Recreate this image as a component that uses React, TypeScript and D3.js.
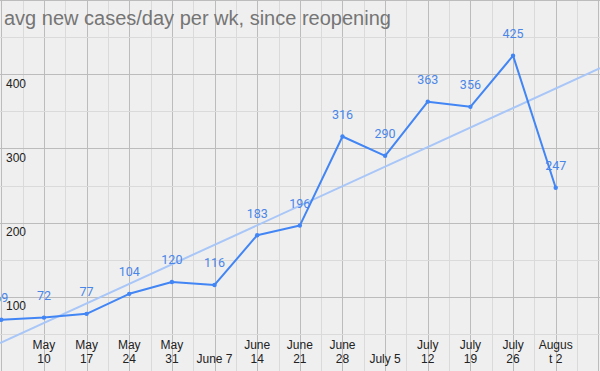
import React from "react";
import * as d3 from "d3";

// weekly averages since reopening
const weeks = ["May 3", "May 10", "May 17", "May 24", "May 31", "June 7", "June 14", "June 21", "June 28", "July 5", "July 12", "July 19", "July 26", "August 2"];
const avgCases = [69, 72, 77, 104, 120, 116, 183, 196, 316, 290, 363, 356, 425, 247];
// how the category axis wraps its labels (first week is off the visible axis)
const weekLabelLines = [[], ["May", "10"], ["May", "17"], ["May", "24"], ["May", "31"], ["June 7"], ["June", "14"], ["June", "21"], ["June", "28"], ["July 5"], ["July", "12"], ["July", "19"], ["July", "26"], ["Augus", "t 2"]];
const yTicks = [100, 200, 300, 400];

const width = 600;
const height = 371;

export default function App() {
	const x = d3.scaleLinear().domain([0, 13]).range([1.3, 555.7]);
	const y = d3.scaleLinear().domain([0, 500]).range([371, 0]);

	// linear trendline (least squares)
	const idx = avgCases.map((_, i) => i);
	const mx = d3.mean(idx) as number;
	const my = d3.mean(avgCases) as number;
	const sxy = d3.sum(idx, (i) => (i - mx) * (avgCases[i] - my));
	const sxx = d3.sum(idx, (i) => (i - mx) ** 2);
	const slope = sxy / sxx;
	const intercept = my - slope * mx;
	const x0 = x.invert(0);
	const x1 = x.invert(width);

	const line = d3
		.line<number>()
		.x((_, i) => x(i))
		.y((d) => y(d));

	const vGrid = d3.range(0, 14.01, 0.5);
	const hGrid = d3.range(0, 501, 50);

	return (
		<div style={{ position: "fixed", left: 0, top: 0 }}>
			<svg width={width} height={height} style={{ display: "block" }}>
				<rect width={width} height={height} fill="#efefef" />
				<g>
					{vGrid.map((v) => (
						<line
							key={"v" + v}
							x1={Math.round(x(v)) + 0.5}
							x2={Math.round(x(v)) + 0.5}
							y1={0}
							y2={height}
							stroke={v % 1 === 0 ? "#bcbcbc" : "#dadada"}
							strokeWidth={1}
						/>
					))}
					{hGrid.map((v) => (
						<line
							key={"h" + v}
							x1={0}
							x2={width}
							y1={Math.round(y(v)) + 0.5}
							y2={Math.round(y(v)) + 0.5}
							stroke={v % 100 === 0 ? "#bcbcbc" : "#dadada"}
							strokeWidth={1}
						/>
					))}
				</g>
				<text x={4} y={25} fontFamily="Liberation Sans, Arial, sans-serif" fontSize={20} fill="#757575">
					avg new cases/day per wk, since reopening
				</text>
				<g fontFamily="Liberation Sans, Arial, sans-serif" fontSize={12} fill="#222">
					{yTicks.map((t) => (
						<text key={t} x={6} y={y(t) + 13.5}>
							{t}
						</text>
					))}
					{weekLabelLines.map((lines, i) =>
						lines.map((s, j) => (
							<text key={i + "-" + j} x={x(i)} y={lines.length === 1 ? 362.5 : 348.5 + j * 14} textAnchor="middle">
								{s}
							</text>
						)),
					)}
				</g>
				<line
					x1={x(x0)}
					x2={x(x1)}
					y1={y(intercept + slope * x0)}
					y2={y(intercept + slope * x1)}
					stroke="#a8c6f7"
					strokeWidth={2}
				/>
				<path d={line(avgCases) ?? ""} fill="none" stroke="#4285f4" strokeWidth={2} strokeLinejoin="round" />
				{avgCases.map((v, i) => (
					<circle key={weeks[i]} cx={x(i)} cy={y(v)} r={2.2} fill="#4285f4" />
				))}
				<g fontFamily="Roboto, sans-serif" fontSize={12.5} fill="#4a86e8" textAnchor="middle">
					{avgCases.map((v, i) => (
						<text key={weeks[i]} x={x(i)} y={y(v) - 17.5}>
							{v}
						</text>
					))}
				</g>
			</svg>
		</div>
	);
}
